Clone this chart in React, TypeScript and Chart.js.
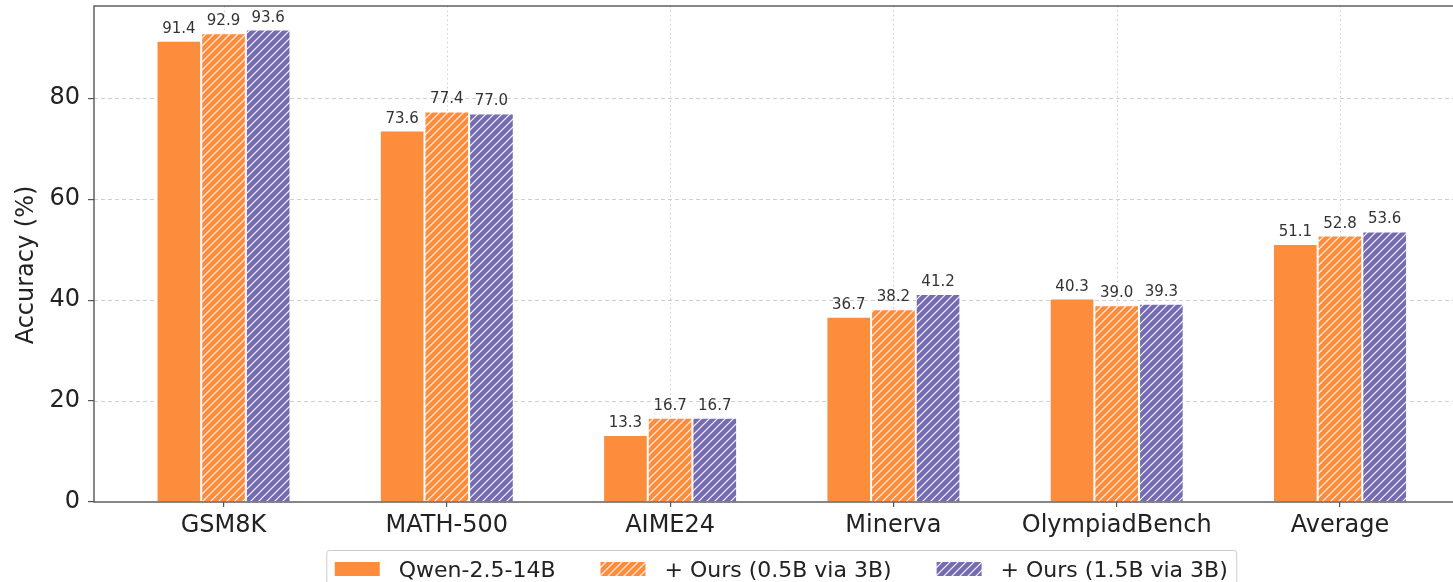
import React, { useEffect, useRef } from 'react';
import { Chart, registerables } from 'chart.js';

Chart.register(...registerables);

// ---- data ----
const categories = ['GSM8K', 'MATH-500', 'AIME24', 'Minerva', 'OlympiadBench', 'Average'];
const seriesLabels = ['Qwen-2.5-14B', '+ Ours (0.5B via 3B)', '+ Ours (1.5B via 3B)'];
const qwenBase = [91.4, 73.6, 13.3, 36.7, 40.3, 51.1];
const ours05 = [92.9, 77.4, 16.7, 38.2, 39.0, 52.8];
const ours15 = [93.6, 77.0, 16.7, 41.2, 39.3, 53.6];
const yTicks = [0, 20, 40, 60, 80];
const yAxisTitle = 'Accuracy (%)';
const yMin = 0;
const yMax = 98.28;
const xMin = -0.58;
const xMax = 5.58;

// ---- style ----
const ORANGE = '#fd8d3c';
const PURPLE = '#756bb1';
const FONT = "'DejaVu Sans', sans-serif";
const SPINE = '#555555';
const GRID = '#cfcfcf';

function makeHatch(color: string): CanvasPattern | string {
  const size = 8;
  const c = document.createElement('canvas');
  c.width = size;
  c.height = size;
  const g = c.getContext('2d');
  if (!g) return color;
  g.fillStyle = color;
  g.fillRect(0, 0, size, size);
  g.strokeStyle = 'rgba(255,255,255,0.95)';
  g.lineWidth = 1.2;
  g.beginPath();
  g.moveTo(-2, size + 2);
  g.lineTo(size + 2, -2);
  g.moveTo(-2, 2);
  g.lineTo(2, -2);
  g.moveTo(size - 2, size + 2);
  g.lineTo(size + 2, size - 2);
  g.stroke();
  return g.createPattern(c, 'repeat') || color;
}

const toPoints = (vals: number[]) => vals.map((y, i) => ({ x: i, y }));

export default function App() {
  const canvasRef = useRef<HTMLCanvasElement | null>(null);

  useEffect(() => {
    document.body.style.margin = '0';
    document.body.style.overflow = 'hidden';
    const canvas = canvasRef.current;
    if (!canvas) return;

    const hatchO = makeHatch(ORANGE);
    const hatchP = makeHatch(PURPLE);
    const fills: any[] = [ORANGE, hatchO, hatchP];

    const decor = {
      id: 'decor',
      beforeDatasetsDraw(chart: any) {
        const { ctx, chartArea } = chart;
        const xs = chart.scales.x;
        const ys = chart.scales.y;
        ctx.save();
        ctx.strokeStyle = GRID;
        ctx.lineWidth = 1;
        ctx.setLineDash([4, 3]);
        yTicks.forEach((v) => {
          if (v === yMin) return;
          const y = Math.round(ys.getPixelForValue(v)) + 0.5;
          ctx.beginPath();
          ctx.moveTo(chartArea.left, y);
          ctx.lineTo(chartArea.right, y);
          ctx.stroke();
        });
        ctx.setLineDash([1.5, 3]);
        categories.forEach((_, i) => {
          const x = Math.round(xs.getPixelForValue(i)) + 0.5;
          ctx.beginPath();
          ctx.moveTo(x, chartArea.top);
          ctx.lineTo(x, chartArea.bottom);
          ctx.stroke();
        });
        ctx.restore();
      },
      afterDatasetsDraw(chart: any) {
        const { ctx, chartArea } = chart;
        ctx.save();
        // spines
        ctx.strokeStyle = SPINE;
        ctx.lineWidth = 1.4;
        ctx.setLineDash([]);
        ctx.strokeRect(chartArea.left, chartArea.top, chartArea.right - chartArea.left, chartArea.bottom - chartArea.top);

        // value labels
        ctx.fillStyle = '#333333';
        ctx.font = `15px ${FONT}`;
        ctx.textAlign = 'center';
        ctx.textBaseline = 'alphabetic';
        chart.data.datasets.forEach((ds: any, di: number) => {
          const meta = chart.getDatasetMeta(di);
          meta.data.forEach((el: any, i: number) => {
            const v = ds.data[i].y as number;
            ctx.fillText(v.toFixed(1), el.x, el.y - 8);
          });
        });

        // y-axis title
        ctx.save();
        ctx.font = `24px ${FONT}`;
        ctx.fillStyle = '#222222';
        ctx.textAlign = 'center';
        ctx.textBaseline = 'alphabetic';
        ctx.translate(33, (chartArea.top + chartArea.bottom) / 2 + 11);
        ctx.rotate(-Math.PI / 2);
        ctx.fillText(yAxisTitle, 0, 0);
        ctx.restore();

        // legend
        ctx.font = `22px ${FONT}`;
        const swW = 45;
        const swH = 14;
        const gapSwText = 19;
        const gapItems = 45;
        const padL = 8;
        const padR = 9;
        const widths = seriesLabels.map((t) => ctx.measureText(t).width);
        let total = padL + padR;
        widths.forEach((w, i) => {
          total += swW + gapSwText + w + (i < widths.length - 1 ? gapItems : 0);
        });
        const cx = (chartArea.left + chartArea.right) / 2;
        const boxL = cx - total / 2;
        const boxT = 550.5;
        const boxH = 44;
        ctx.strokeStyle = '#cccccc';
        ctx.lineWidth = 1;
        ctx.fillStyle = 'rgba(255,255,255,0.8)';
        const r = 3;
        ctx.beginPath();
        ctx.moveTo(boxL + r, boxT);
        ctx.lineTo(boxL + total - r, boxT);
        ctx.arcTo(boxL + total, boxT, boxL + total, boxT + r, r);
        ctx.lineTo(boxL + total, boxT + boxH);
        ctx.lineTo(boxL, boxT + boxH);
        ctx.lineTo(boxL, boxT + r);
        ctx.arcTo(boxL, boxT, boxL + r, boxT, r);
        ctx.closePath();
        ctx.fill();
        ctx.stroke();
        const midY = 569;
        let x = boxL + padL;
        seriesLabels.forEach((t, i) => {
          ctx.fillStyle = fills[i];
          ctx.fillRect(x, midY - swH / 2, swW, swH);
          x += swW + gapSwText;
          ctx.fillStyle = '#222222';
          ctx.textAlign = 'left';
          ctx.textBaseline = 'alphabetic';
          ctx.fillText(t, x, midY + 8);
          x += widths[i] + gapItems;
        });
        ctx.restore();
      },
    };

    const chart = new Chart(canvas, {
      type: 'bar',
      data: {
        datasets: [
          { label: seriesLabels[0], data: toPoints(qwenBase) as any, backgroundColor: ORANGE, borderColor: '#ffffff', borderWidth: 1 },
          { label: seriesLabels[1], data: toPoints(ours05) as any, backgroundColor: hatchO as any, borderColor: '#ffffff', borderWidth: 1 },
          { label: seriesLabels[2], data: toPoints(ours15) as any, backgroundColor: hatchP as any, borderColor: '#ffffff', borderWidth: 1 },
        ],
      },
      options: {
        responsive: false,
        animation: false,
        devicePixelRatio: 1,
        layout: { padding: { top: 6, right: 10.5, left: 0, bottom: 0 } },
        datasets: { bar: { categoryPercentage: 0.6, barPercentage: 1, grouped: true } } as any,
        plugins: { legend: { display: false }, tooltip: { enabled: false } },
        scales: {
          x: {
            type: 'linear',
            min: xMin,
            max: xMax,
            offset: false,
            afterBuildTicks: (s: any) => {
              s.ticks = categories.map((_, i) => ({ value: i }));
            },
            afterFit: (s: any) => {
              s.height = 98;
              s.paddingLeft = 0;
              s.paddingRight = 0;
            },
            ticks: {
              callback: (v: any) => categories[v as number] ?? '',
              font: { family: FONT, size: 24 },
              color: '#222222',
              padding: 4,
              maxRotation: 0,
              autoSkip: false,
            },
            grid: { offset: false, drawOnChartArea: false, drawTicks: true, tickLength: 5, color: SPINE, lineWidth: 1.2 },
            border: { display: false },
          } as any,
          y: {
            min: yMin,
            max: yMax,
            afterBuildTicks: (s: any) => {
              s.ticks = yTicks.map((v) => ({ value: v }));
            },
            afterFit: (s: any) => {
              s.width = 94;
              s.paddingTop = 0;
              s.paddingBottom = 0;
            },
            ticks: {
              callback: (v: any) => String(v),
              font: { family: FONT, size: 24 },
              color: '#222222',
              padding: 8,
            },
            grid: { offset: false, drawOnChartArea: false, drawTicks: true, tickLength: 6, color: SPINE, lineWidth: 1.2 },
            border: { display: false },
          } as any,
        },
      },
      plugins: [decor],
    });

    return () => {
      chart.destroy();
    };
  }, []);

  return (
    <div style={{ position: 'relative', width: 1453, height: 582, overflow: 'hidden', background: '#ffffff' }}>
      <canvas
        ref={canvasRef}
        width={1480}
        height={600}
        style={{ position: 'absolute', left: 0, top: 0, width: 1480, height: 600 }}
      />
    </div>
  );
}
